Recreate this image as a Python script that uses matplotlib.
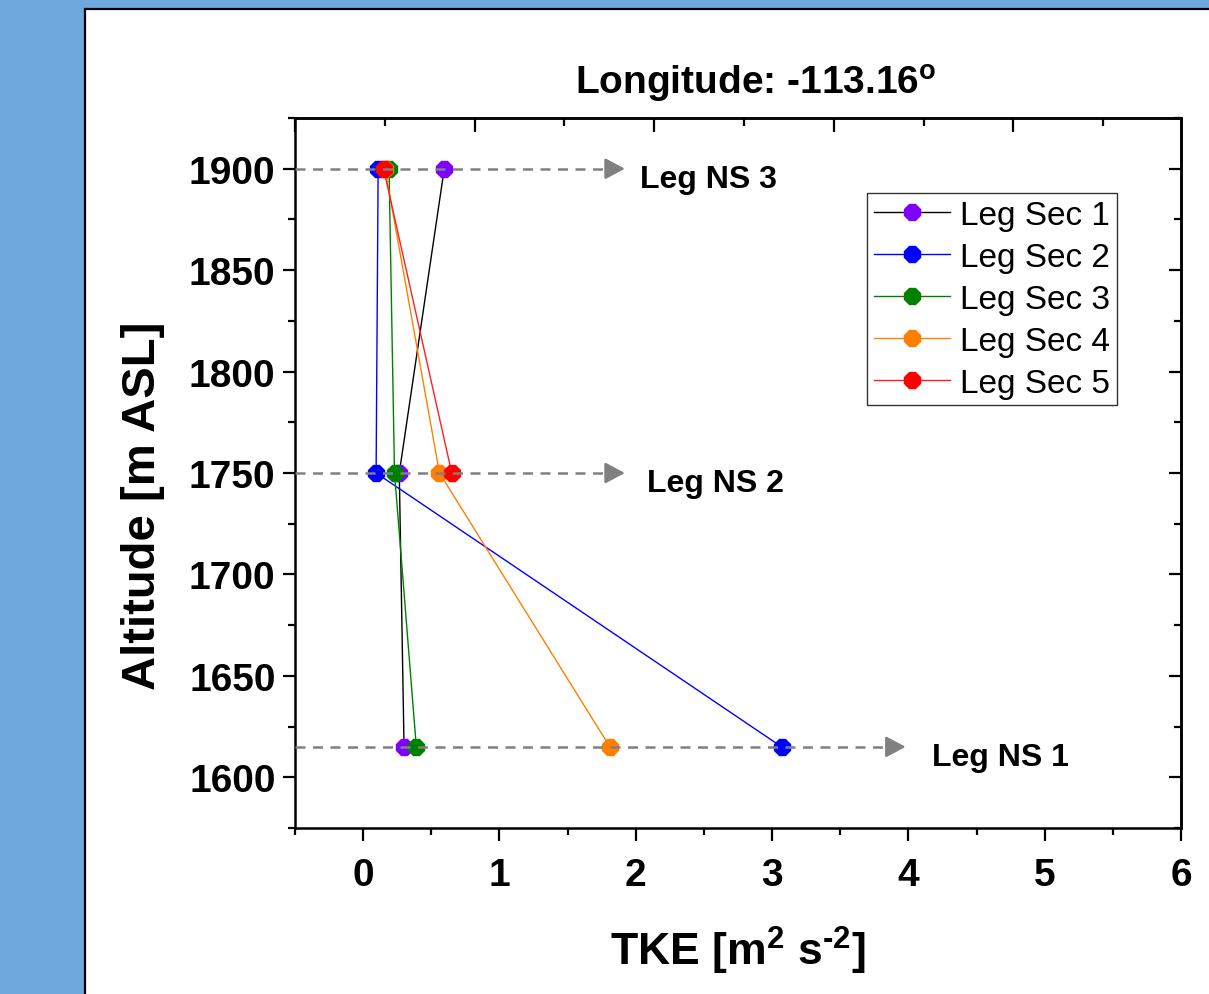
import numpy as np
import matplotlib
matplotlib.use("Agg")
import matplotlib.pyplot as plt
from matplotlib.patches import Rectangle
from matplotlib.ticker import MultipleLocator

plt.rcParams["font.family"] = ["Liberation Sans", "DejaVu Sans"]
plt.rcParams["mathtext.fontset"] = "custom"
plt.rcParams["mathtext.rm"] = "Liberation Sans"
plt.rcParams["mathtext.it"] = "Liberation Sans"
plt.rcParams["mathtext.bf"] = "Liberation Sans:bold"

# TKE profiles per leg section (x = TKE, y = altitude)
sec_names = ["Leg Sec 1", "Leg Sec 2", "Leg Sec 3", "Leg Sec 4", "Leg Sec 5"]
sec1_tke = [0.595, 0.265, 0.30]
sec1_alt = [1900, 1750, 1615]
sec2_tke = [0.11, 0.095, 3.07]
sec2_alt = [1900, 1750, 1615]
sec3_tke = [0.19, 0.23, 0.39]
sec3_alt = [1900, 1750, 1615]
sec4_tke = [0.16, 0.56, 1.81]
sec4_alt = [1900, 1750, 1615]
sec5_tke = [0.15, 0.65]
sec5_alt = [1900, 1750]

marker_colors = ["#8000ff", "#0000ff", "#008000", "#ff8000", "#ff0000"]
line_colors = ["#000000", "#0000ff", "#008000", "#ff8000", "#ff2020"]

# north-south legs (arrows)
ns_labels = ["Leg NS 1", "Leg NS 2", "Leg NS 3"]
ns_alt = [1615, 1750, 1900]
ns_arrow_end = [3.98, 1.92, 1.92]
ns_text_x = [4.17, 2.08, 2.03]

W, H = 1209, 995
fig = plt.figure(figsize=(W / 100, H / 100), dpi=100)
fig.patch.set_facecolor("#6fa8dc")
panel = Rectangle((85 / W, -0.01), 1.0, 1 - 10 / H + 0.01, transform=fig.transFigure,
                  facecolor="white", edgecolor="black", linewidth=1.6, zorder=-10)
fig.patches.append(panel)

ax = fig.add_axes([295 / W, 1 - 829 / H, (1181 - 295) / W, (829 - 119) / H])
ax.set_zorder(1)
ax.set_facecolor("none")

xs = [sec1_tke, sec2_tke, sec3_tke, sec4_tke, sec5_tke]
ys = [sec1_alt, sec2_alt, sec3_alt, sec4_alt, sec5_alt]
for i in range(5):
    ax.plot(xs[i], ys[i], color=line_colors[i], linewidth=1.0, marker="8",
            markersize=13, markerfacecolor=marker_colors[i],
            markeredgecolor=marker_colors[i], label=sec_names[i], zorder=3)

for lab, alt, xe, xt in zip(ns_labels, ns_alt, ns_arrow_end, ns_text_x):
    ax.plot([-0.5, xe - 0.1], [alt, alt], color="#808080", linewidth=1.8,
            dashes=(4, 3), zorder=4)
    ax.annotate("", xy=(xe, alt), xytext=(xe - 0.12, alt),
                arrowprops=dict(arrowstyle="-|>,head_length=0.6,head_width=0.32",
                                color="#808080", lw=1.8, mutation_scale=20,
                                shrinkA=0, shrinkB=0), zorder=4)
    ax.text(xt, alt - 5, lab, fontsize=23, fontweight="bold", va="center", ha="left")

ax.set_xlim(-0.5, 6)
ax.set_ylim(1575, 1925)
ax.set_xticks(range(0, 7))
ax.xaxis.set_minor_locator(MultipleLocator(0.5))
ax.set_yticks(range(1600, 1901, 50))
ax.yaxis.set_minor_locator(MultipleLocator(25))
ax.tick_params(which="major", direction="out", length=9, width=1.6, labelsize=28)
ax.tick_params(which="minor", direction="out", length=5, width=1.6)
ax.tick_params(axis="x", which="major", pad=12)
ax.tick_params(axis="y", which="major", pad=5)
for lbl in ax.get_xticklabels() + ax.get_yticklabels():
    lbl.set_fontweight("bold")
for sp in ax.spines.values():
    sp.set_linewidth(1.8)

# mirrored axes with inward ticks
top = ax.secondary_xaxis("top", functions=(lambda x: (x + 0.5) * 2 / 1.3177,
                                           lambda t: t * 1.3177 / 2 - 0.5))
top.set_xticks([0, 2, 4, 6, 8])
top.xaxis.set_minor_locator(MultipleLocator(1))
top.tick_params(which="major", direction="in", length=10, width=1.6, labeltop=False)
top.tick_params(which="minor", direction="in", length=6, width=1.6)
top.spines["top"].set_linewidth(1.8)

right = ax.secondary_yaxis("right")
right.set_yticks(range(1600, 1901, 50))
right.yaxis.set_minor_locator(MultipleLocator(25))
right.tick_params(which="major", direction="in", length=9, width=1.6, labelright=False)
right.tick_params(which="minor", direction="in", length=5, width=1.6)
right.spines["right"].set_linewidth(1.8)

ax.set_xlabel("TKE [m$^{\\mathbf{2}}$ s$^{\\mathbf{\u20102}}$]", fontsize=32,
              fontweight="bold")
ax.xaxis.set_label_coords(0.5, -0.135)
ax.set_ylabel("Altitude [m ASL]", fontsize=34, fontweight="bold")
ax.yaxis.set_label_coords(-0.147, 0.455)

fig.text(756 / W, 1 - 95 / H, r"Longitude: -113.16$^{\mathbf{o}}$", fontsize=28,
         fontweight="bold", ha="center", va="baseline")

leg = ax.legend(loc="upper left", bbox_to_anchor=(0.6456, 0.8944), borderaxespad=0,
                fontsize=24, frameon=True, fancybox=False, edgecolor="black",
                handlelength=2.3, handletextpad=0.3, labelspacing=0.33,
                borderpad=0.2)
leg.get_frame().set_linewidth(1.0)

fig.savefig("out.png", dpi=100, facecolor=fig.get_facecolor())
